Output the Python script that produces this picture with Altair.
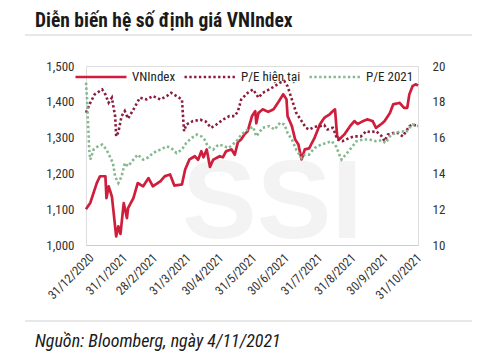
import altair as alt
import pandas as pd

# ---- data (day offsets from 31/12/2020) ----
vn_days = [-1, 3, 9, 12, 17, 18, 20, 23, 24, 27,
           29, 31, 34, 37, 38, 43, 47, 52, 57, 61,
           68, 72, 77, 81, 88, 91, 95, 100, 103, 106,
           108, 111, 114, 117, 123, 126, 129, 134, 137, 140,
           143, 146, 149, 153, 156, 157, 159, 163, 168, 173,
           177, 182, 185, 186, 190, 193, 196, 199, 202, 206,
           211, 216, 220, 225, 228, 230, 232, 234, 239, 244,
           248, 251, 256, 260, 265, 268, 273, 276, 281, 284,
           290, 294, 297, 299, 302, 305, 307]
vn_values = [1100, 1118, 1173, 1192, 1192, 1131, 1164, 1136, 1108, 1024,
             1052, 1031, 1117, 1075, 1103, 1131, 1173, 1164, 1187, 1164,
             1178, 1192, 1197, 1166, 1169, 1211, 1239, 1248, 1238, 1262,
             1245, 1267, 1218, 1238, 1248, 1245, 1262, 1267, 1252, 1288,
             1295, 1309, 1318, 1360, 1374, 1340, 1369, 1379, 1372, 1379,
             1397, 1421, 1407, 1360, 1332, 1295, 1281, 1239, 1267, 1270,
             1299, 1337, 1355, 1365, 1374, 1379, 1304, 1295, 1310, 1332,
             1346, 1338, 1346, 1351, 1346, 1327, 1338, 1346, 1369, 1393,
             1397, 1383, 1383, 1421, 1444, 1449, 1445]

pe_now_days = [-1, 3, 7, 14, 17, 20, 23, 26, 27, 29,
               32, 35, 38, 43, 49, 55, 61, 68, 74, 78,
               83, 88, 89, 90, 92, 98, 105, 110, 115, 120,
               126, 132, 137, 140, 143, 149, 154, 159, 163, 169,
               174, 179, 183, 186, 190, 194, 200, 203, 206, 211,
               216, 220, 223, 228, 230, 232, 237, 244, 248, 254,
               259, 263, 268, 273, 276, 279, 284, 288, 293, 296,
               299, 302, 307]
pe_now_values = [17.39, 17.95, 18.41, 18.69, 18.41, 17.95, 18.23, 17.2, 16.07, 16.3,
                 17.2, 17.48, 17.06, 17.57, 18.23, 18.13, 18.32, 18.13, 18.32, 18.5,
                 18.32, 18.13, 17.2, 16.36, 16.73, 16.92, 17.0, 16.9, 16.55, 16.73,
                 17.0, 17.2, 17.2, 17.48, 18.13, 18.5, 18.69, 18.23, 18.5, 18.69,
                 18.87, 19.07, 19.16, 18.87, 18.13, 17.39, 16.83, 16.55, 16.45, 16.6,
                 16.64, 16.7, 16.45, 16.55, 16.26, 15.89, 15.8, 16.0, 16.07, 16.07,
                 16.36, 16.3, 16.36, 16.1, 15.8, 16.17, 16.26, 16.26, 16.07, 16.36,
                 16.64, 16.73, 16.64]

pe21_days = [-1, 0, 1, 2, 3, 6, 10, 14, 18, 21,
             24, 26, 29, 32, 35, 38, 43, 47, 52, 57,
             61, 68, 74, 78, 83, 88, 92, 97, 102, 106,
             109, 112, 117, 122, 126, 131, 135, 140, 143, 149,
             154, 157, 163, 169, 174, 179, 183, 186, 190, 194,
             199, 202, 206, 211, 217, 222, 227, 231, 234, 236,
             240, 245, 250, 256, 262, 268, 273, 277, 282, 287,
             291, 296, 299, 302, 307]
pe21_values = [19.07, 18.13, 16.64, 15.33, 14.77, 15.33, 15.51, 15.61, 15.33, 14.96,
               14.58, 13.83, 13.46, 13.83, 14.58, 14.4, 14.77, 15.05, 14.77, 14.9,
               15.14, 15.33, 15.51, 15.42, 15.14, 15.33, 15.7, 15.98, 16.17, 16.07,
               15.89, 15.51, 15.33, 15.61, 15.55, 15.42, 15.6, 15.9, 16.17, 16.45,
               16.6, 16.07, 16.55, 16.64, 16.45, 16.83, 16.73, 16.26, 15.89, 15.33,
               14.86, 15.05, 15.05, 15.42, 15.61, 15.7, 15.8, 15.51, 15.05, 14.77,
               15.05, 15.42, 15.8, 15.89, 15.89, 15.8, 15.85, 15.7, 16.17, 16.26,
               16.36, 16.3, 16.55, 16.73, 16.64]

series_names = ["VNIndex", "P/E hiện tại", "P/E 2021"]
series_colors = ["#cf1d3c", "#8a1d3e", "#86b890"]
tick_dates = [(2020, 12, 31), (2021, 1, 31), (2021, 2, 28), (2021, 3, 31), (2021, 4, 30),
              (2021, 5, 31), (2021, 6, 30), (2021, 7, 31), (2021, 8, 31), (2021, 9, 30),
              (2021, 10, 31)]
left_ticks = [1000, 1100, 1200, 1300, 1400, 1500]
right_ticks = [10, 12, 14, 16, 18, 20]

title_text = "Diễn biến hệ số định giá VNIndex"
source_text = "Nguồn: Bloomberg, ngày 4/11/2021"

FONT = "Liberation Sans Narrow, Roboto Condensed, DejaVu Sans Condensed, sans-serif"


def to_dates(days):
    base = pd.Timestamp("2020-12-31")
    return [(base + pd.Timedelta(days=d)).strftime("%Y-%m-%dT00:00:00") for d in days]


vn_df = pd.DataFrame({"date": to_dates(vn_days), "value": vn_values, "series": "VNIndex"})
pe_df = pd.concat([
    pd.DataFrame({"date": to_dates(pe_now_days), "value": pe_now_values, "series": "P/E hiện tại"}),
    pd.DataFrame({"date": to_dates(pe21_days), "value": pe21_values, "series": "P/E 2021"}),
])

x_enc = alt.X(
    "date:T",
    scale=alt.Scale(domain=[alt.DateTime(year=2020, month=12, date=30),
                            alt.DateTime(year=2021, month=11, date=3)]),
    axis=alt.Axis(
        title=None,
        values=[alt.DateTime(year=y, month=m, date=d) for (y, m, d) in tick_dates],
        format="%-d/%-m/%Y",
        labelAngle=-45,
        labelOverlap=False,
        labelFont=FONT,
        labelFontSize=12.5,
        labelColor="#333333",
        ticks=False,
        domainColor="#cccccc",
        labelPadding=6,
        grid=False,
    ),
)

legend_cfg = dict(
    title=None,
    orient="none",
    legendX=-12,
    legendY=-16,
    direction="horizontal",
    symbolType="stroke",
    symbolSize=2600,
    symbolStrokeWidth=2.6,
    labelFont=FONT,
    labelFontSize=13,
    labelColor="#222222",
    columnPadding=3,
    labelOffset=4,
    padding=0,
)

color_enc = alt.Color(
    "series:N",
    scale=alt.Scale(domain=series_names, range=series_colors),
    legend=alt.Legend(**legend_cfg),
)
dash_enc = alt.StrokeDash(
    "series:N",
    scale=alt.Scale(domain=series_names, range=[[1, 0], [2.4, 2.4], [2.4, 2.4]]),
    legend=alt.Legend(**legend_cfg),
)

vn_line = alt.Chart(vn_df).mark_line(strokeWidth=2.7, strokeJoin="round").encode(
    x=x_enc,
    y=alt.Y("value:Q",
            scale=alt.Scale(domain=[1000, 1500], nice=False, zero=False),
            axis=alt.Axis(title=None, values=left_ticks, format=",.0f", orient="left",
                          domain=False, ticks=False, grid=False, labelFont=FONT,
                          labelFontSize=13, labelColor="#333333", labelPadding=12)),
    color=color_enc,
    strokeDash=dash_enc,
)

pe_line = alt.Chart(pe_df).mark_line(strokeWidth=2.6).encode(
    x=x_enc,
    y=alt.Y("value:Q",
            scale=alt.Scale(domain=[10, 20], nice=False, zero=False),
            axis=alt.Axis(title=None, values=right_ticks, format=".0f", orient="right",
                          domain=False, ticks=False, grid=False, labelFont=FONT,
                          labelFontSize=13, labelColor="#333333", labelPadding=14)),
    color=color_enc,
    strokeDash=dash_enc,
    detail="series:N",
)

one = pd.DataFrame({"t": [0]})

watermark = alt.Chart(one).mark_text(
    text="SSI", font="Liberation Sans", fontWeight="bold", fontSize=112,
    color="#f3f3f3", align="left", baseline="alphabetic"
).encode(x=alt.value(96), y=alt.value(172))

title_mark = alt.Chart(one).mark_text(
    text=title_text, font=FONT, fontWeight="bold", fontSize=19.5,
    color="#1a1a1a", align="left", baseline="alphabetic"
).encode(x=alt.value(-51), y=alt.value(-39))

top_rule = alt.Chart(one).mark_rule(color="#d0d0d0", strokeWidth=1).encode(
    x=alt.value(-61), x2=alt.value(394), y=alt.value(-31))

bottom_rule = alt.Chart(one).mark_rule(color="#d0d0d0", strokeWidth=1).encode(
    x=alt.value(-61), x2=alt.value(394), y=alt.value(255))

source_mark = alt.Chart(one).mark_text(
    text=source_text, font=FONT, fontStyle="italic", fontSize=18,
    color="#1a1a1a", align="left", baseline="alphabetic"
).encode(x=alt.value(-51), y=alt.value(281))

chart = alt.layer(
    watermark, vn_line, pe_line, title_mark, top_rule, bottom_rule, source_mark
).resolve_scale(
    y="independent"
).properties(
    width=332,
    height=179,
    autosize=alt.AutoSizeParams(type="none"),
    padding={"left": 78, "top": 58, "right": 54, "bottom": 107},
).configure_view(
    stroke=None
).configure(
    background="white"
)

chart.save("out.html", embed_options={"renderer": "svg", "actions": False})
